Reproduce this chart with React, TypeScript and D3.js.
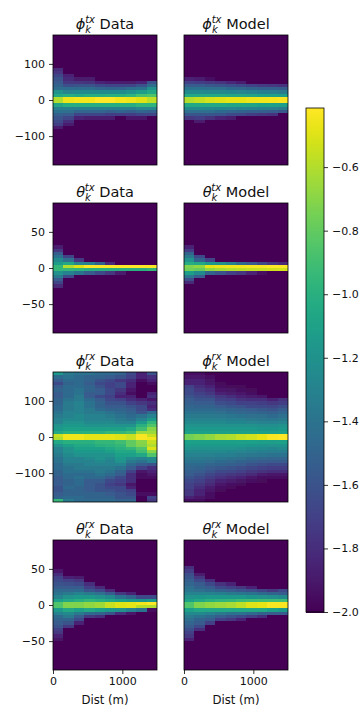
import React, { useEffect, useRef } from 'react';
import * as d3 from 'd3';

// each column: [first bin from the top, ...values]; bins not listed sit at the floor
const FLOOR = -2;
const BINS = 40;

const phiTxData = [
  [10, -1.81, -1.76, -1.68, -1.6, -1.56, -1.5, -1.44, -1.2, -1.05, -.6, -.6, -1.08, -1.33, -1.4, -1.52, -1.6, -1.65, -1.71, -1.87],
  [12, -1.84, -1.81, -1.75, -1.62, -1.44, -1.28, -1.01, -.46, -.46, -1.01, -1.32, -1.43, -1.55, -1.68, -1.79, -1.87],
  [13, -1.89, -1.76, -1.6, -1.44, -1.25, -1.05, -.44, -.44, -1.01, -1.32, -1.48, -1.68, -1.84],
  [13, -1.89, -1.78, -1.6, -1.44, -1.25, -1.01, -.44, -.44, -1.01, -1.32, -1.48, -1.68, -1.87],
  [14, -1.84, -1.65, -1.48, -1.25, -1.01, -.42, -.42, -1.01, -1.32, -1.48, -1.68, -1.87],
  [14, -1.87, -1.68, -1.49, -1.25, -1.0, -.42, -.42, -1.01, -1.33, -1.52, -1.71, -1.87],
  [14, -1.87, -1.68, -1.48, -1.24, -1.0, -.44, -.44, -1.01, -1.33, -1.49, -1.71],
  [14, -1.89, -1.68, -1.44, -1.2, -.97, -.46, -.46, -1.01, -1.33, -1.52, -1.71, -1.9],
  [14, -1.84, -1.6, -1.4, -1.13, -.89, -.49, -.49, -.97, -1.28, -1.49, -1.68, -1.9],
  [14, -1.6, -1.44, -1.2, -1.05, -.86, -.57, -.57, -.97, -1.28, -1.52, -1.68],
];

const phiTxModel = [
  [13, -1.85, -1.7, -1.55, -1.4, -1.25, -1.05, -.6, -.6, -1.05, -1.25, -1.42, -1.58, -1.75],
  [13, -1.87, -1.72, -1.55, -1.4, -1.25, -1.05, -.56, -.56, -1.05, -1.25, -1.42, -1.58, -1.72, -1.88],
  [13, -1.93, -1.75, -1.57, -1.42, -1.26, -1.05, -.52, -.52, -1.05, -1.26, -1.42, -1.58, -1.78],
  [14, -1.78, -1.6, -1.42, -1.26, -1.05, -.5, -.5, -1.05, -1.27, -1.45, -1.6, -1.85],
  [14, -1.83, -1.62, -1.45, -1.27, -1.07, -.48, -.48, -1.07, -1.28, -1.48, -1.65, -1.88],
  [14, -1.87, -1.65, -1.47, -1.28, -1.07, -.47, -.47, -1.07, -1.3, -1.5, -1.67],
  [15, -1.7, -1.5, -1.3, -1.08, -.46, -.46, -1.08, -1.3, -1.52, -1.72],
  [15, -1.73, -1.52, -1.32, -1.1, -.45, -.45, -1.1, -1.32, -1.53, -1.75],
  [15, -1.75, -1.53, -1.33, -1.1, -.44, -.44, -1.1, -1.33, -1.55, -1.77],
  [15, -1.77, -1.55, -1.35, -1.12, -.43, -.43, -1.12, -1.35, -1.57],
];

const thetaTxData = [
  [13, -1.87, -1.75, -1.55, -1.4, -1.25, -1.13, -.95, -.95, -1.2, -1.35, -1.55, -1.68, -1.82],
  [16, -1.68, -1.42, -1.05, -.6, -.95, -1.3, -1.65],
  [17, -1.75, -1.28, -.5, -.97, -1.4],
  [18, -1.3, -.42, -1.0, -1.55],
  [18, -1.5, -.42, -1.0, -1.65],
  [18, -1.82, -.42, -1.0, -1.75],
  [19, -.42, -1.0, -1.88],
  [19, -.42, -1.0],
  [19, -.42, -1.0],
  [19, -.42, -.95],
];

const thetaTxModel = [
  [13, -1.85, -1.72, -1.5, -1.35, -1.2, -1.02, -.72, -.75, -1.12, -1.38, -1.62, -1.82],
  [16, -1.65, -1.5, -1.05, -.68, -.78, -1.25, -1.55],
  [17, -1.68, -1.15, -.48, -.68, -1.5],
  [18, -1.2, -.46, -.63, -1.6],
  [18, -1.3, -.45, -.6, -1.7],
  [18, -1.45, -.44, -.58, -1.75],
  [18, -1.55, -.43, -.56, -1.85],
  [18, -1.65, -.43, -.55, -1.95],
  [18, -1.75, -.42, -.53],
  [18, -1.82, -.42, -.52],
];

const phiRxData = [
  [0, -1.15, -1.45, -1.55, -1.65, -1.55, -1.5, -1.55, -1.55, -1.5, -1.5, -1.45, -1.45, -1.4, -1.35, -1.3, -1.3, -1.2, -1.15, -1.05, -.55, -.6, -1.05, -1.2, -1.3, -1.3, -1.35, -1.4, -1.4, -1.45, -1.45, -1.5, -1.5, -1.55, -1.55, -1.55, -1.6, -1.6, -1.55, -1.5, -.95],
  [0, -1.35, -1.4, -1.45, -1.5, -1.45, -1.45, -1.45, -1.45, -1.4, -1.35, -1.35, -1.35, -1.3, -1.3, -1.25, -1.2, -1.15, -1.1, -1.0, -.45, -.45, -1.0, -1.1, -1.2, -1.2, -1.25, -1.3, -1.3, -1.35, -1.4, -1.4, -1.45, -1.45, -1.5, -1.5, -1.45, -1.5, -1.5, -1.45, -1.35],
  [0, -1.4, -1.45, -1.45, -1.45, -1.45, -1.4, -1.4, -1.35, -1.35, -1.3, -1.3, -1.3, -1.3, -1.25, -1.25, -1.2, -1.15, -1.1, -1.0, -.45, -.45, -1.0, -1.05, -1.1, -1.15, -1.2, -1.3, -1.3, -1.35, -1.35, -1.4, -1.45, -1.4, -1.45, -1.45, -1.5, -1.5, -1.5, -1.45, -1.45],
  [0, -1.4, -1.5, -1.5, -1.55, -1.5, -1.5, -1.55, -1.55, -1.45, -1.4, -1.4, -1.35, -1.35, -1.3, -1.3, -1.25, -1.2, -1.1, -1.0, -.48, -.48, -1.0, -1.05, -1.1, -1.15, -1.2, -1.25, -1.3, -1.3, -1.35, -1.4, -1.45, -1.45, -1.55, -1.55, -1.55, -1.55, -1.5, -1.5, -1.45],
  [0, -1.45, -1.5, -1.6, -1.65, -1.6, -1.55, -1.55, -1.65, -1.55, -1.5, -1.5, -1.45, -1.35, -1.3, -1.3, -1.25, -1.2, -1.1, -1.0, -.48, -.48, -.95, -1.0, -1.1, -1.15, -1.2, -1.2, -1.25, -1.3, -1.35, -1.35, -1.4, -1.45, -1.55, -1.6, -1.6, -1.6, -1.5, -1.5, -1.45],
  [0, -1.45, -1.55, -1.65, -1.7, -1.7, -1.65, -1.65, -1.7, -1.65, -1.6, -1.55, -1.5, -1.4, -1.35, -1.3, -1.25, -1.2, -1.1, -.95, -.48, -.48, -.95, -.98, -1.05, -1.1, -1.2, -1.25, -1.3, -1.3, -1.35, -1.4, -1.45, -1.55, -1.65, -1.7, -1.65, -1.6, -1.55, -1.5, -1.45],
  [0, -1.5, -1.6, -1.75, -1.65, -1.65, -1.75, -1.8, -1.85, -1.7, -1.6, -1.55, -1.5, -1.45, -1.4, -1.35, -1.3, -1.2, -1.1, -.95, -.5, -.5, -.9, -.95, -1.0, -1.05, -1.1, -1.15, -1.2, -1.3, -1.4, -1.5, -1.55, -1.65, -1.7, -1.75, -1.65, -1.65, -1.6, -1.6, -1.5],
  [0, -1.65, -1.7, -1.8, -1.85, -1.85, -1.9, -1.95, -1.85, -1.8, -1.7, -1.6, -1.55, -1.5, -1.45, -1.4, -1.3, -1.2, -1.05, -.9, -.55, -.55, -.8, -.8, -.95, -1.05, -1.1, -1.25, -1.35, -1.45, -1.55, -1.7, -1.8, -1.8, -1.8, -1.9, -1.85, -1.7, -1.65, -1.6, -1.5],
  [0, -1.85, -1.85, -1.95, -2, -2, -2, -2, -2, -1.85, -1.75, -1.65, -1.65, -1.6, -1.4, -1.3, -1.15, -1.0, -.9, -.65, -.43, -.43, -.7, -.72, -.85, -.9, -1.05, -1.3, -1.4, -1.55, -1.7, -1.9, -1.95, -1.95, -2, -2, -2, -2, -1.95, -1.98, -2],
  [0, -1.6, -1.8, -1.85, -1.95, -2, -2, -1.85, -1.8, -1.9, -1.8, -1.85, -1.8, -1.45, -1.3, -1.15, -.95, -.85, -.7, -.65, -.55, -.45, -.55, -.6, -.5, -.7, -.85, -1.25, -1.3, -1.6, -1.8, -1.85, -1.9, -1.95, -2, -2, -2, -2, -1.95, -1.7, -1.75],
];

const phiRxModel = [
  [0, -1.95, -1.9, -1.85, -1.85, -1.7, -1.65, -1.65, -1.6, -1.55, -1.52, -1.48, -1.45, -1.4, -1.35, -1.3, -1.25, -1.2, -1.15, -1.1, -.75, -.75, -1.1, -1.15, -1.2, -1.25, -1.3, -1.35, -1.4, -1.45, -1.48, -1.52, -1.55, -1.6, -1.65, -1.7, -1.7, -1.75, -1.75, -1.85, -1.95],
  [0, -1.95, -1.9, -1.85, -1.85, -1.8, -1.75, -1.7, -1.65, -1.6, -1.55, -1.5, -1.45, -1.4, -1.35, -1.3, -1.25, -1.2, -1.15, -1.1, -.72, -.72, -1.1, -1.15, -1.2, -1.25, -1.3, -1.35, -1.4, -1.45, -1.5, -1.55, -1.6, -1.65, -1.7, -1.75, -1.8, -1.85, -1.85, -1.9, -1.95],
  [0, -2, -1.95, -1.92, -1.9, -1.85, -1.8, -1.75, -1.68, -1.6, -1.55, -1.5, -1.45, -1.4, -1.35, -1.3, -1.25, -1.2, -1.15, -1.1, -.68, -.68, -1.1, -1.15, -1.2, -1.25, -1.3, -1.37, -1.42, -1.48, -1.55, -1.6, -1.67, -1.72, -1.78, -1.82, -1.87, -1.9, -1.93, -1.95, -2],
  [0, -2, -2, -1.98, -1.97, -1.95, -1.9, -1.85, -1.75, -1.7, -1.62, -1.55, -1.48, -1.42, -1.36, -1.3, -1.25, -1.2, -1.15, -1.1, -.62, -.62, -1.1, -1.15, -1.2, -1.25, -1.32, -1.38, -1.45, -1.5, -1.57, -1.65, -1.72, -1.78, -1.85, -1.9, -1.93, -1.97, -2, -2, -2],
  [0, -2, -2, -2, -1.98, -1.97, -1.92, -1.88, -1.8, -1.72, -1.65, -1.58, -1.5, -1.45, -1.38, -1.32, -1.27, -1.2, -1.15, -1.1, -.6, -.6, -1.1, -1.15, -1.2, -1.27, -1.33, -1.4, -1.47, -1.53, -1.6, -1.67, -1.75, -1.82, -1.88, -1.93, -1.97, -2, -2, -2, -2],
  [0, -2, -2, -2, -2, -1.97, -1.95, -1.9, -1.85, -1.78, -1.7, -1.6, -1.53, -1.47, -1.4, -1.33, -1.27, -1.2, -1.15, -1.1, -.55, -.55, -1.1, -1.15, -1.22, -1.28, -1.35, -1.42, -1.5, -1.55, -1.63, -1.7, -1.78, -1.85, -1.92, -1.96, -2, -2, -2, -2, -2],
  [5, -1.97, -1.93, -1.88, -1.8, -1.7, -1.65, -1.55, -1.48, -1.42, -1.35, -1.28, -1.2, -1.15, -1.1, -.52, -.52, -1.1, -1.17, -1.25, -1.3, -1.37, -1.45, -1.52, -1.6, -1.67, -1.75, -1.82, -1.9, -1.95],
  [7, -1.9, -1.8, -1.72, -1.65, -1.57, -1.5, -1.43, -1.37, -1.3, -1.22, -1.17, -1.1, -.47, -.47, -1.12, -1.18, -1.25, -1.32, -1.38, -1.47, -1.55, -1.62, -1.7, -1.78, -1.87, -1.93, -1.97],
  [8, -1.85, -1.75, -1.67, -1.6, -1.52, -1.45, -1.38, -1.3, -1.22, -1.17, -1.12, -.43, -.43, -1.12, -1.2, -1.27, -1.33, -1.4, -1.48, -1.55, -1.65, -1.72, -1.8, -1.9, -1.95],
  [8, -1.78, -1.72, -1.62, -1.55, -1.48, -1.42, -1.35, -1.28, -1.2, -1.15, -1.1, -.42, -.42, -1.1, -1.18, -1.25, -1.33, -1.4, -1.48, -1.55, -1.65, -1.72, -1.8, -1.9, -1.95],
];

const thetaRxData = [
  [9, -1.9, -1.8, -1.7, -1.65, -1.6, -1.55, -1.45, -1.4, -1.3, -1.1, -.85, -.85, -1.15, -1.3, -1.45, -1.5, -1.55, -1.6, -1.7, -1.75, -1.85, -1.92],
  [11, -1.85, -1.7, -1.62, -1.55, -1.47, -1.35, -1.2, -1.05, -.72, -.72, -1.05, -1.25, -1.35, -1.5, -1.6, -1.75],
  [11, -1.88, -1.75, -1.65, -1.55, -1.45, -1.3, -1.15, -1.0, -.72, -.72, -1.1, -1.35, -1.55, -1.65, -1.85],
  [13, -1.8, -1.7, -1.58, -1.35, -1.15, -.95, -.68, -.68, -1.05, -1.45, -1.75],
  [14, -1.82, -1.65, -1.42, -1.2, -1.0, -.64, -.64, -1.1, -1.5, -1.8],
  [15, -1.82, -1.55, -1.25, -1.05, -.55, -.55, -1.15, -1.6],
  [16, -1.75, -1.4, -1.1, -.5, -.5, -1.2, -1.8],
  [16, -1.85, -1.5, -1.15, -.48, -.48, -1.3, -1.9],
  [17, -1.65, -1.18, -.45, -.58, -1.4],
  [17, -1.65, -1.15, -.42, -.6, -1.95],
];

const thetaRxModel = [
  [8, -1.8, -1.72, -1.62, -1.58, -1.52, -1.48, -1.42, -1.38, -1.3, -1.2, -1.1, -.85, -.85, -1.1, -1.25, -1.35, -1.42, -1.48, -1.55, -1.62, -1.7, -1.75, -1.85],
  [10, -1.88, -1.75, -1.65, -1.55, -1.5, -1.42, -1.3, -1.17, -1.05, -.72, -.72, -1.05, -1.25, -1.4, -1.5, -1.55, -1.65, -1.8],
  [12, -1.8, -1.65, -1.55, -1.45, -1.3, -1.15, -1.0, -.68, -.68, -1.05, -1.3, -1.45, -1.55, -1.7],
  [13, -1.78, -1.65, -1.5, -1.32, -1.15, -.97, -.65, -.65, -1.05, -1.35, -1.55, -1.7],
  [13, -1.85, -1.7, -1.55, -1.35, -1.15, -.95, -.62, -.62, -1.05, -1.4, -1.6, -1.75],
  [14, -1.75, -1.58, -1.38, -1.15, -.92, -.57, -.57, -1.05, -1.4, -1.65, -1.85],
  [14, -1.85, -1.62, -1.4, -1.18, -.9, -.5, -.5, -1.05, -1.45, -1.72],
  [15, -1.68, -1.45, -1.2, -.9, -.47, -.47, -1.05, -1.5, -1.8],
  [15, -1.75, -1.5, -1.22, -.9, -.43, -.43, -1.1, -1.55],
  [15, -1.65, -1.55, -1.25, -.9, -.43, -.43, -1.15, -1.55],
];

const distBins = d3.range(0, 1500, 150);
const distTicks = [0, 1000];
const colorTicks = [-2.0, -1.8, -1.6, -1.4, -1.2, -1.0, -0.8, -0.6];
const colorMax = -0.414;

const rows = [
  { sym: '\u03d5', sup: 'tx', span: 180, ticks: [100, 0, -100], data: phiTxData, model: phiTxModel },
  { sym: '\u03b8', sup: 'tx', span: 90, ticks: [50, 0, -50], data: thetaTxData, model: thetaTxModel },
  { sym: '\u03d5', sup: 'rx', span: 180, ticks: [100, 0, -100], data: phiRxData, model: phiRxModel },
  { sym: '\u03b8', sup: 'rx', span: 90, ticks: [50, 0, -50], data: thetaRxData, model: thetaRxModel },
];

const rowTops = [35, 203, 372, 540];
const colLefts = [53, 184];
const panelW = 104;
const panelH = 130;
const font = '"DejaVu Sans", sans-serif';
const minus = (v: number, digits = 0) => d3.format(`.${digits}f`)(v).replace('-', '\u2212');

export default function App() {
  const ref = useRef<SVGSVGElement>(null);

  useEffect(() => {
    const svg = d3.select(ref.current);
    svg.selectAll('*').remove();

    const color = d3.scaleSequential(d3.interpolateViridis).domain([FLOOR, colorMax]);

    // the source image is a little soft from being resampled
    const defs = svg.append('defs');
    defs.append('filter')
      .attr('id', 'soft')
      .attr('x', '-5%')
      .attr('y', '-5%')
      .attr('width', '110%')
      .attr('height', '110%')
      .append('feGaussianBlur')
      .attr('stdDeviation', 0.28);

    const styleAxis = (g: any) => {
      g.selectAll('.domain').remove();
      g.selectAll('line').attr('stroke', '#000').attr('stroke-width', 0.8);
      g.selectAll('text').attr('font-family', font).attr('font-size', 11).attr('fill', '#111');
    };

    rows.forEach((row, r) => {
      [row.data, row.model].forEach((columns, c) => {
        const left = colLefts[c];
        const top = rowTops[r];
        const x = d3.scaleLinear().domain([0, 1500]).range([left, left + panelW]);
        const y = d3.scaleLinear().domain([row.span, -row.span]).range([top, top + panelH]);
        const binH = (2 * row.span) / BINS;
        const clipId = `clip-${r}-${c}`;

        defs.append('clipPath')
          .attr('id', clipId)
          .append('rect')
          .attr('x', left)
          .attr('y', top)
          .attr('width', panelW)
          .attr('height', panelH);

        const outer = svg.append('g').attr('clip-path', `url(#${clipId})`);
        const g = outer.append('g').attr('filter', 'url(#soft)').attr('shape-rendering', 'crispEdges');
        g.append('rect')
          .attr('x', left - 3)
          .attr('y', top - 3)
          .attr('width', panelW + 6)
          .attr('height', panelH + 6)
          .attr('fill', color(FLOOR));

        columns.forEach((col, i) => {
          const first = col[0];
          col.slice(1).forEach((v, j) => {
            const upper = row.span - (first + j) * binH;
            g.append('rect')
              .attr('x', x(distBins[i]))
              .attr('y', y(upper))
              .attr('width', x(distBins[i] + 150) - x(distBins[i]))
              .attr('height', y(upper - binH) - y(upper))
              .attr('fill', color(v));
          });
        });

        svg.append('rect')
          .attr('x', left)
          .attr('y', top)
          .attr('width', panelW)
          .attr('height', panelH)
          .attr('fill', 'none')
          .attr('stroke', '#000')
          .attr('stroke-width', 0.8);

        if (c === 0) {
          const ya = svg.append('g').attr('transform', `translate(${left},0)`);
          ya.call(d3.axisLeft(y).tickValues(row.ticks).tickSize(4).tickPadding(4).tickFormat((v: any) => minus(v)) as any);
          styleAxis(ya);
        }

        if (r === rows.length - 1) {
          const xa = svg.append('g').attr('transform', `translate(0,${top + panelH})`);
          xa.call(d3.axisBottom(x).tickValues(distTicks).tickSize(4).tickPadding(3).tickFormat((v: any) => String(v)) as any);
          styleAxis(xa);
          svg.append('text')
            .attr('x', left + panelW / 2)
            .attr('y', top + panelH + 34)
            .attr('text-anchor', 'middle')
            .attr('font-family', font)
            .attr('font-size', 11.7)
            .attr('fill', '#111')
            .text('Dist (m)');
        }

        // title: symbol with stacked sub/superscript, then the word
        const t = svg.append('text')
          .attr('x', left + panelW / 2)
          .attr('y', top - 6)
          .attr('text-anchor', 'middle')
          .attr('font-family', font)
          .attr('font-size', 14.5)
          .attr('fill', '#111');
        t.append('tspan').attr('font-style', 'italic').text(row.sym);
        t.append('tspan').attr('font-style', 'italic').attr('font-size', 10).attr('dy', 4).text('k');
        t.append('tspan').attr('font-style', 'italic').attr('font-size', 10).attr('dx', -6).attr('dy', -10).text(row.sup);
        t.append('tspan').attr('dy', 6).text(c === 0 ? '\u00a0Data' : '\u00a0Model');
      });
    });

    // colour bar
    const barX = 306;
    const barW = 18;
    const cy = d3.scaleLinear().domain([FLOOR, colorMax]).range([612, 108]);
    const steps = d3.range(0, 256).map((i) => FLOOR + ((colorMax - FLOOR) * i) / 256);
    const step = (colorMax - FLOOR) / 256;
    svg.append('g')
      .attr('shape-rendering', 'crispEdges')
      .selectAll('rect')
      .data(steps)
      .join('rect')
      .attr('x', barX)
      .attr('y', (d) => cy(d + step))
      .attr('width', barW)
      .attr('height', (d) => cy(d) - cy(d + step) + 1)
      .attr('fill', (d) => color(d + step / 2));
    svg.append('rect')
      .attr('x', barX)
      .attr('y', 108)
      .attr('width', barW)
      .attr('height', 504)
      .attr('fill', 'none')
      .attr('stroke', '#000')
      .attr('stroke-width', 0.8);
    const ca = svg.append('g').attr('transform', `translate(${barX + barW},0)`);
    ca.call(d3.axisRight(cy).tickValues(colorTicks).tickSize(4).tickPadding(4).tickFormat((v: any) => minus(v, 1)) as any);
    styleAxis(ca);
  }, []);

  return (
    <svg
      ref={ref}
      width={360}
      height={720}
      style={{ position: 'absolute', left: 0, top: 0, background: '#fff' }}
    />
  );
}
